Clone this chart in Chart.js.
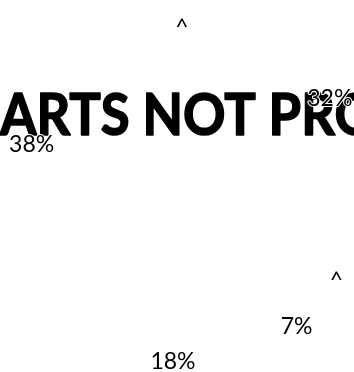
<!DOCTYPE html>
<html>
<head>
<meta charset="utf-8">
<script src="https://cdn.jsdelivr.net/npm/chart.js@4.4.1/dist/chart.umd.min.js"></script>
<style>
  html, body { margin: 0; padding: 0; background: #fff; }
  #wrap { width: 354px; height: 372px; position: relative; }
</style>
</head>
<body>
<div id="wrap"><canvas id="pie"></canvas></div>
<script>
// --- DATA ---
const sliceNames = ['A', 'B', 'C', 'D', 'E', 'F'];
const sliceValues = [32, 4.5, 7, 18, 38, 0.5];
const sliceLabels = ['32%', '^', '7%', '18%', '38%', '^'];
const watermarkText = 'CHARTS NOT PROVIDED';

const LABEL_GAP = 18;

// draws the big bold text behind the labels
const watermarkPlugin = {
    id: 'watermark',
    beforeDatasetsDraw(chart) {
        const ctx = chart.ctx;
        ctx.save();
        ctx.font = 'bold 58px Lato';
        ctx.fillStyle = '#000';
        ctx.strokeStyle = '#000';
        ctx.lineWidth = 1.6;
        ctx.lineJoin = 'round';
        ctx.textBaseline = 'alphabetic';
        ctx.textAlign = 'left';
        // squeeze it a bit, the original face is narrower
        const sx = 335 / ctx.measureText('ARTS NOT PR').width;
        const lead = ctx.measureText('CH').width;
        ctx.scale(sx, 1);
        ctx.fillText(watermarkText, -lead, 135);
        ctx.strokeText(watermarkText, -lead, 135);
        ctx.restore();
    }
};

// slice labels, just outside each arc on its mid angle
const sliceLabelPlugin = {
    id: 'sliceLabels',
    afterDatasetsDraw(chart) {
        const ctx = chart.ctx;
        const meta = chart.getDatasetMeta(0);
        ctx.save();
        ctx.font = '23px Lato';
        ctx.fillStyle = '#000';
        ctx.strokeStyle = '#fff';
        ctx.lineWidth = 2;
        ctx.lineJoin = 'round';
        ctx.textAlign = 'center';
        ctx.textBaseline = 'middle';
        meta.data.forEach((arc, i) => {
            const p = arc.getProps(['x', 'y', 'startAngle', 'endAngle', 'outerRadius'], true);
            const mid = (p.startAngle + p.endAngle) / 2;
            const r = p.outerRadius + LABEL_GAP;
            const x = p.x + Math.cos(mid) * r;
            const y = p.y + Math.sin(mid) * r;
            ctx.strokeText(sliceLabels[i], x, y);
            ctx.fillText(sliceLabels[i], x, y);
        });
        ctx.restore();
    }
};

new Chart(document.getElementById('pie'), {
    type: 'pie',
    data: {
        labels: sliceNames,
        datasets: [{
            data: sliceValues,
            backgroundColor: 'rgba(255,255,255,0)',
            borderWidth: 0
        }]
    },
    options: {
        responsive: true,
        maintainAspectRatio: false,
        animation: false,
        rotation: -2.5,
        layout: { padding: { left: 30, top: 45, right: 0, bottom: 27 } },
        plugins: {
            legend: { display: false },
            tooltip: { enabled: false }
        }
    },
    plugins: [watermarkPlugin, sliceLabelPlugin]
});
</script>
</body>
</html>
